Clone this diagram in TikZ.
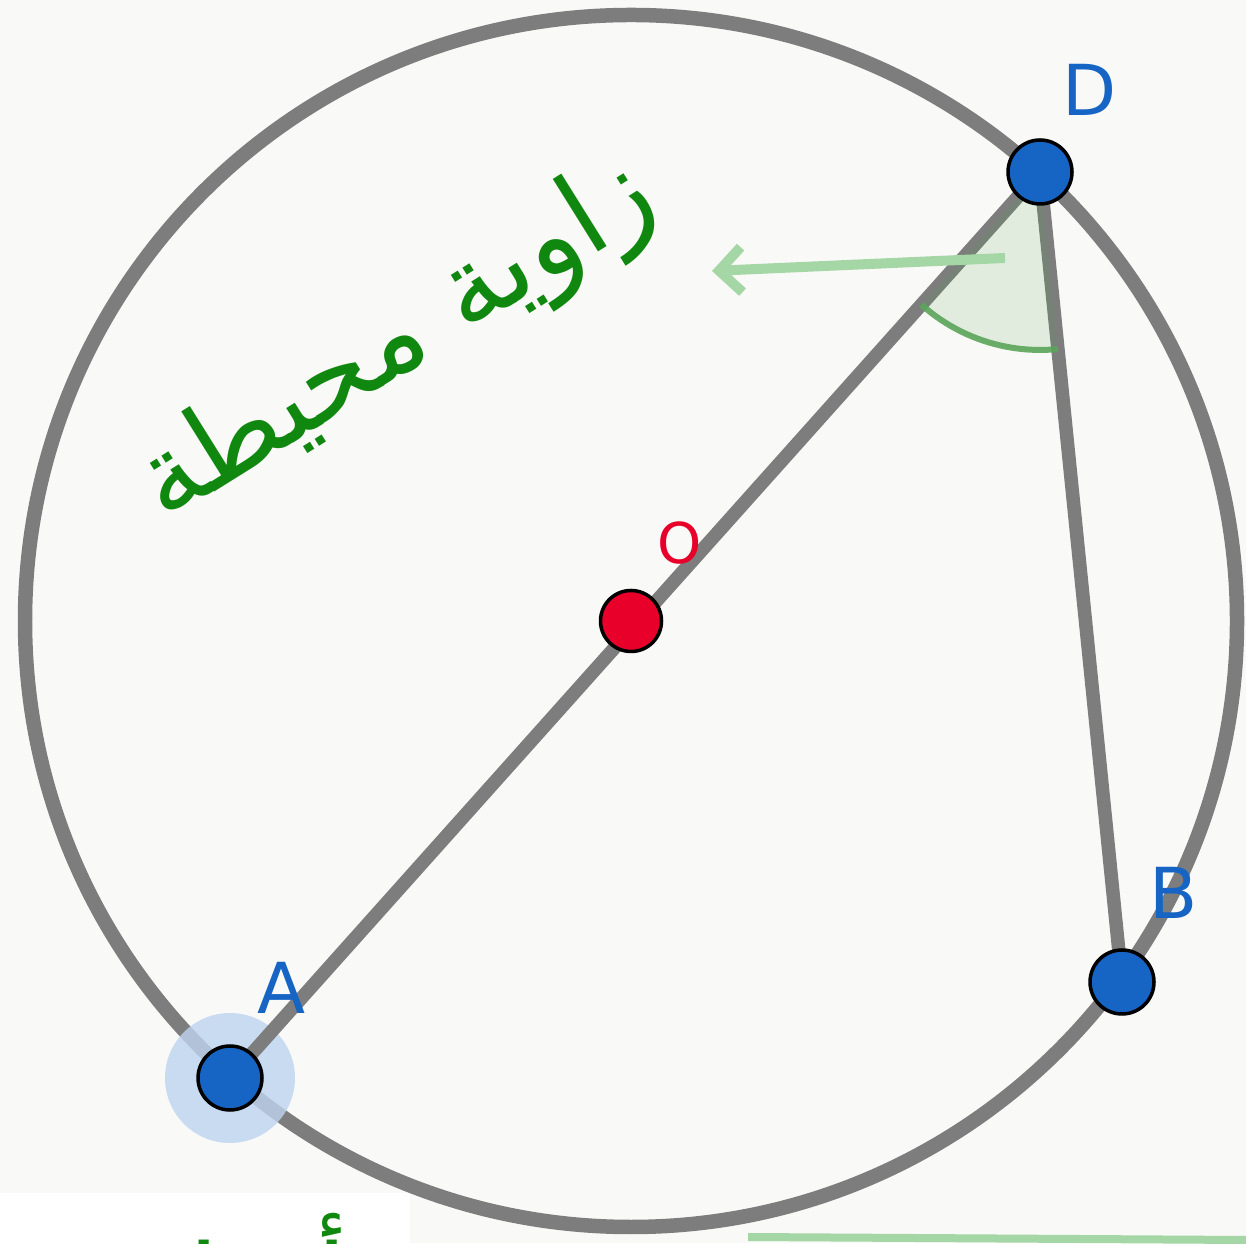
\documentclass[tikz,border=0pt]{standalone}
\usepackage{fontspec}
\setsansfont{DejaVu Sans}
\newfontfamily\arabicfont[Script=Arabic]{DejaVu Sans}
\TeXXeTstate=1
\usepackage{tikz}
\usetikzlibrary{angles,arrows.meta}

\definecolor{bgcol}{RGB}{249,249,247}
\definecolor{circgray}{RGB}{125,125,125}
\definecolor{ptblue}{RGB}{22,100,196}
\definecolor{ptred}{RGB}{232,0,42}
\definecolor{txtgreen}{RGB}{16,136,16}
\definecolor{anggreen}{RGB}{90,165,90}
\definecolor{arrgreen}{RGB}{165,214,165}
\definecolor{halo}{RGB}{190,212,240}

\tikzset{
  seg/.style={circgray,line width=0.27cm},
  bluept/.style={circle,fill=ptblue,draw=black,line width=2pt,minimum size=1.28cm,inner sep=0pt},
  redpt/.style={circle,fill=ptred,draw=black,line width=2pt,minimum size=1.22cm,inner sep=0pt},
  lbl/.style={font=\sffamily\fontsize{40}{46}\selectfont,text=ptblue,inner sep=0pt}
}

\begin{document}
\begin{tikzpicture}[x=0.02cm,y=0.02cm]
  % Background and page size
  \fill[bgcol] (0,0) rectangle (1246,1243);
  \useasboundingbox (0,0) rectangle (1246,1243);
  \clip (0,0) rectangle (1246,1243);
  \fill[white] (0,0) rectangle (410,50);

  % Points on the circle
  \coordinate (O) at (631,622);
  \coordinate (D) at (1040,1071);
  \coordinate (A) at (230,165);
  \coordinate (B) at (1122,261);

  % Draw the circle
  \draw[circgray,line width=0.29cm] (O) circle (606);

  % Halo round A
  \fill[halo,fill opacity=0.8] (A) circle (65);

  % Draw the chords
  \draw[seg] (A) -- (D);
  \draw[seg] (D) -- (B);

  % Inscribed angle at D
  \pic[draw=anggreen,fill=anggreen,fill opacity=0.15,draw opacity=0.9,
       line width=0.12cm,angle radius=3.56cm] {angle = A--D--B};

  % Arrow to the label
  \coordinate (arrS) at (1005,985);
  \coordinate (arrE) at (712,972);
  \draw[arrgreen,line width=0.2cm,-{Straight Barb[length=0.45cm,width=0.9cm]}] (arrS) -- (arrE);

  % Line at the bottom
  \coordinate (botS) at (748,6);
  \coordinate (botE) at (1246,3);
  \draw[arrgreen,line width=0.16cm] (botS) -- (botE);

  % Draw the points
  \foreach \p in {A,B,D} {
    \node[bluept] (pt\p) at (\p) {};
  }
  \node[redpt] (ptO) at (O) {};

  % Label the points
  \node[lbl] (lblD) at (1090,1153) {D};
  \node[lbl] (lblA) at (282,255) {A};
  \node[lbl] (lblB) at (1174,350) {B};
  \node[lbl,text=ptred,font=\sffamily\fontsize{32}{36}\selectfont] (lblO) at (680,700) {O};

  % Arabic texts
  \node[text=txtgreen,rotate=32,inner sep=0pt] (name) at (398,900)
    {\arabicfont\fontsize{64}{70}\selectfont\beginR زاوية محيطة\endR};
  \node[text=txtgreen,anchor=north east,inner sep=0pt] (more) at (348,30)
    {\arabicfont\fontsize{64}{70}\selectfont\beginR أمثلة\endR};
\end{tikzpicture}
\end{document}
